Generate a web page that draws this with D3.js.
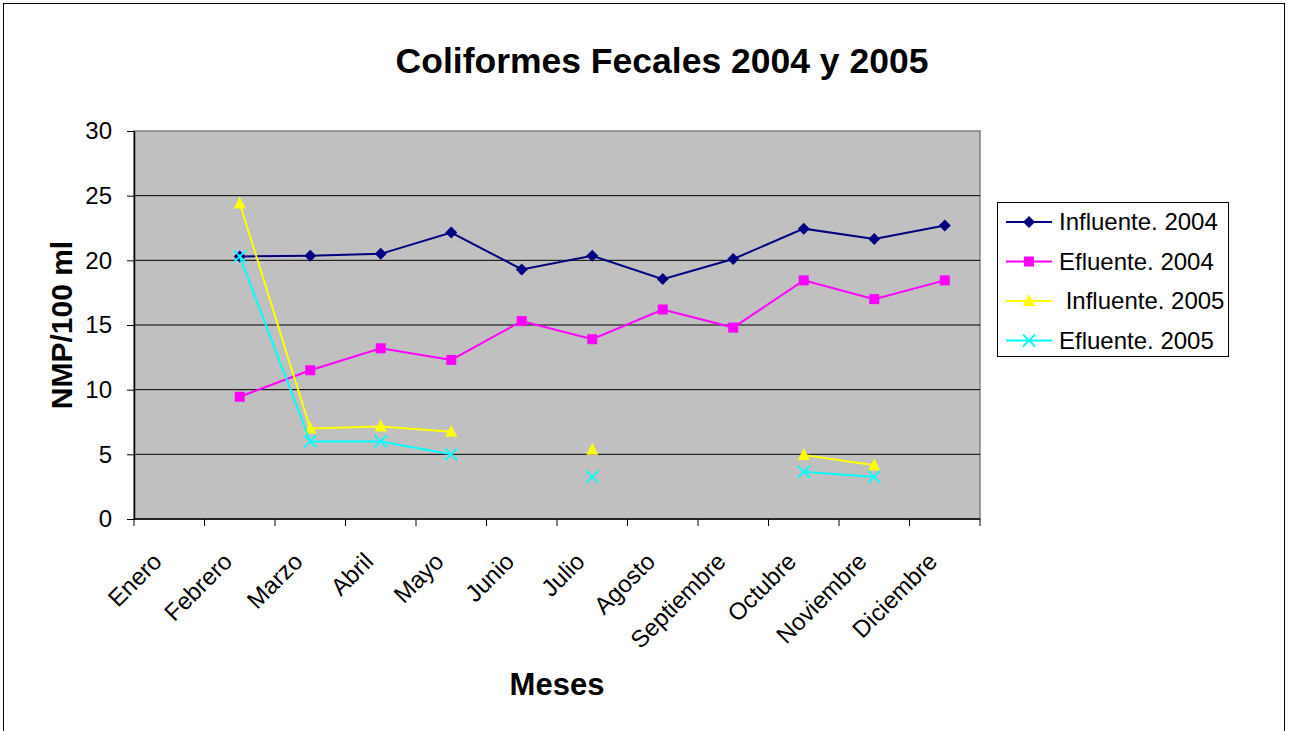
<!DOCTYPE html>
<html>
<head>
<meta charset="utf-8">
<script src="https://cdn.jsdelivr.net/npm/d3@7"></script>
<style>
 body { margin:0; background:#fff; }
 text { font-family:"Liberation Sans", Arial, sans-serif; }
</style>
</head>
<body>
<script>
 var meses = ["Enero","Febrero","Marzo","Abril","Mayo","Junio","Julio","Agosto","Septiembre","Octubre","Noviembre","Diciembre"];
 var influente2004 = [null,20.3,20.35,20.5,22.15,19.3,20.35,18.55,20.1,22.45,21.65,22.7];
 var efluente2004  = [null,9.45,11.5,13.2,12.3,15.3,13.9,16.2,14.8,18.45,17.0,18.45];
 var influente2005 = [null,24.4,7.0,7.15,6.75,null,5.35,null,null,4.95,4.15,null];
 var efluente2005  = [null,20.3,6.0,6.0,5.0,null,3.25,null,null,3.65,3.25,null];
 var yTicks = [0,5,10,15,20,25,30];

 var series = [
   {name:"Influente. 2004", values:influente2004, color:"#000080", marker:"diamond"},
   {name:"Efluente. 2004",  values:efluente2004,  color:"#FF00FF", marker:"square"},
   {name:" Influente. 2005", values:influente2005, color:"#FFFF00", marker:"triangle"},
   {name:"Efluente. 2005",  values:efluente2005,  color:"#00FFFF", marker:"cross"}
 ];

 var W = 1289, H = 731;
 var pLeft = 134, pRight = 980, pTop = 131, pBottom = 519;

 var svg = d3.select("body").append("svg")
     .attr("width", W).attr("height", H);

 // chart frame
 svg.append("rect")
     .attr("x", 3.5).attr("y", 3.5)
     .attr("width", 1281).attr("height", 760)
     .attr("fill", "#fff").attr("stroke", "#000").attr("stroke-width", 1);

 var x = d3.scaleBand().domain(meses).range([pLeft, pRight]);
 var y = d3.scaleLinear().domain([0, 30]).range([pBottom, pTop]);

 // plot area
 svg.append("rect")
     .attr("x", pLeft).attr("y", pTop)
     .attr("width", pRight - pLeft).attr("height", pBottom - pTop)
     .attr("fill", "#C0C0C0").attr("stroke", "#808080").attr("stroke-width", 1.5);

 // gridlines
 svg.selectAll("line.grid").data(yTicks.slice(1, -1)).enter()
     .append("line").attr("class", "grid")
     .attr("x1", pLeft).attr("x2", pRight)
     .attr("y1", function(d){ return y(d); }).attr("y2", function(d){ return y(d); })
     .attr("stroke", "#000").attr("stroke-width", 1);

 // y axis
 var yAxis = svg.append("g")
     .attr("transform", "translate(" + pLeft + ",0)")
     .call(d3.axisLeft(y).tickValues(yTicks).tickSize(7).tickPadding(15).tickSizeOuter(0));
 yAxis.select(".domain").attr("stroke", "#000").attr("stroke-width", 1.5);
 yAxis.selectAll(".tick line").attr("stroke", "#000");
 yAxis.selectAll("text").attr("font-size", 24).attr("fill", "#000")
     .style("font-family", "Liberation Sans, Arial, sans-serif");

 // x axis (ticks between categories)
 var xb = svg.append("g");
 xb.append("line")
     .attr("x1", pLeft).attr("x2", pRight).attr("y1", pBottom).attr("y2", pBottom)
     .attr("stroke", "#000").attr("stroke-width", 1.5);
 var edges = meses.map(function(m){ return x(m); }).concat([pRight]);
 xb.selectAll("line.tk").data(edges).enter()
     .append("line").attr("class", "tk")
     .attr("x1", function(d){ return d; }).attr("x2", function(d){ return d; })
     .attr("y1", pBottom).attr("y2", pBottom + 7)
     .attr("stroke", "#000").attr("stroke-width", 1);
 xb.selectAll("text").data(meses).enter()
     .append("text")
     .attr("transform", function(d){
       return "translate(" + (x(d) + x.bandwidth() / 2 - 6) + "," + (pBottom + 44) + ") rotate(-45)";
     })
     .attr("text-anchor", "end")
     .attr("font-size", 24)
     .text(function(d){ return d; });

 // titles
 svg.append("text")
     .attr("x", 662).attr("y", 73)
     .attr("text-anchor", "middle")
     .attr("font-size", 35.5).attr("font-weight", "bold")
     .text("Coliformes Fecales 2004 y 2005");
 svg.append("text")
     .attr("transform", "translate(72,325) rotate(-90)")
     .attr("text-anchor", "middle")
     .attr("font-size", 30).attr("font-weight", "bold")
     .text("NMP/100 ml");
 svg.append("text")
     .attr("x", 557).attr("y", 695)
     .attr("text-anchor", "middle")
     .attr("font-size", 31).attr("font-weight", "bold")
     .text("Meses");

 function drawMarker(g, type, color) {
   if (type === "diamond") {
     g.append("path").attr("d", "M0,-6L6,0L0,6L-6,0Z").attr("fill", color);
   } else if (type === "square") {
     g.append("rect").attr("x", -5).attr("y", -5).attr("width", 10).attr("height", 10).attr("fill", color);
   } else if (type === "triangle") {
     g.append("path").attr("d", "M0,-7L6,5L-6,5Z").attr("fill", color);
   } else {
     g.append("path").attr("d", "M-6,-6L6,6M-6,6L6,-6").attr("stroke", color).attr("stroke-width", 1.8);
   }
 }

 var line = d3.line()
     .defined(function(d){ return d.v !== null; })
     .x(function(d){ return x(d.m) + x.bandwidth() / 2; })
     .y(function(d){ return y(d.v); });

 series.forEach(function(s) {
   var pts = meses.map(function(m, i){ return {m:m, v:s.values[i]}; });
   svg.append("path")
       .datum(pts)
       .attr("d", line)
       .attr("fill", "none")
       .attr("stroke", s.color)
       .attr("stroke-width", 2);
   pts.filter(function(d){ return d.v !== null; }).forEach(function(d) {
     var g = svg.append("g")
         .attr("transform", "translate(" + (x(d.m) + x.bandwidth() / 2) + "," + y(d.v) + ")");
     drawMarker(g, s.marker, s.color);
   });
 });

 // legend
 var lg = svg.append("g");
 lg.append("rect")
     .attr("x", 997.5).attr("y", 202.5).attr("width", 231).attr("height", 154)
     .attr("fill", "#fff").attr("stroke", "#000").attr("stroke-width", 1);
 series.forEach(function(s, i) {
   var cy = 222 + i * 39.5;
   lg.append("line")
       .attr("x1", 1006).attr("x2", 1052).attr("y1", cy).attr("y2", cy)
       .attr("stroke", s.color).attr("stroke-width", 2);
   var g = lg.append("g").attr("transform", "translate(1029," + cy + ")");
   drawMarker(g, s.marker, s.color);
   lg.append("text")
       .attr("x", 1059).attr("y", cy)
       .attr("dy", "0.35em")
       .attr("font-size", 24)
       .attr("xml:space", "preserve")
       .style("white-space", "pre")
       .text(s.name);
 });
</script>
</body>
</html>
